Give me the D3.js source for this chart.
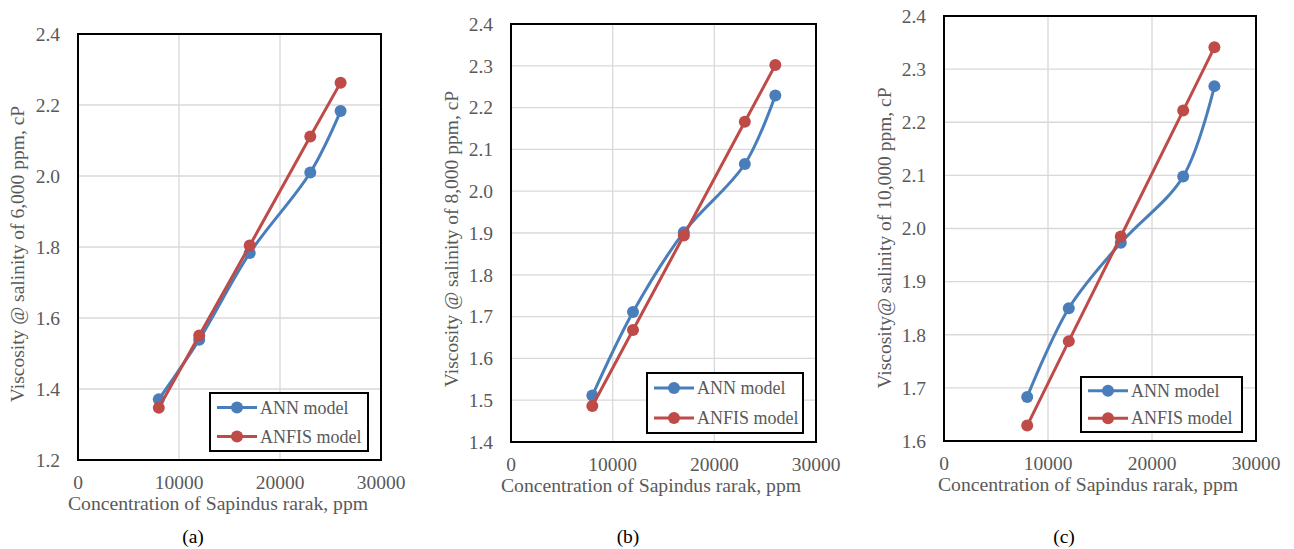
<!DOCTYPE html>
<html>
<head>
<meta charset="utf-8">
<script src="https://cdn.jsdelivr.net/npm/d3@7"></script>
<style>
  body { margin: 0; background: #fff; }
  svg { display: block; font-family: "Liberation Serif", "Times New Roman", serif; }
</style>
</head>
<body>
<svg id="chart"></svg>
<script>
// concentration of Sapindus rarak (ppm)
const concentration = [8000, 12000, 17000, 23000, 26000];

// viscosity (cP) at salinity 6,000 / 8,000 / 10,000 ppm
const annA = [1.371, 1.539, 1.783, 2.010, 2.183];
const anfisA = [1.347, 1.551, 1.804, 2.111, 2.263];
const annB = [1.511, 1.711, 1.902, 2.065, 2.229];
const anfisB = [1.486, 1.668, 1.894, 2.166, 2.302];
const annC = [1.683, 1.850, 1.973, 2.098, 2.268];
const anfisC = [1.629, 1.788, 1.985, 2.222, 2.341];

const xTicks = [0, 10000, 20000, 30000];
const yTicksA = [1.2, 1.4, 1.6, 1.8, 2.0, 2.2, 2.4];
const yTicksB = [1.4, 1.5, 1.6, 1.7, 1.8, 1.9, 2.0, 2.1, 2.2, 2.3, 2.4];
const yTicksC = [1.6, 1.7, 1.8, 1.9, 2.0, 2.1, 2.2, 2.3, 2.4];

const seriesNames = ['ANN model', 'ANFIS model'];
const yTitles = [
    'Viscosity @ salinity of 6,000 ppm, cP',
    'Viscosity @ salinity of 8,000 ppm, cP',
    'Viscosity@ salinity of 10,000 ppm, cP'
];
const xTitle = 'Concentration of Sapindus rarak, ppm';
const panelLabels = ['(a)', '(b)', '(c)'];

const colors = { ann: '#4a7ebb', anfis: '#be4b48' };
const grey = '#595959';

const svg = d3.select('#chart')
    .attr('width', 1294)
    .attr('height', 549);

const panels = [
    { left: 78, top: 34, right: 381, bottom: 460, ticks: yTicksA, ann: annA, anfis: anfisA,
      legend: { x: 210, y: 393, w: 158, h: 58 }, ytx: 24, yty: 254, tickY: 489, titleX: 218, titleY: 510, labelX: 193 },
    { left: 511, top: 24, right: 816, bottom: 442, ticks: yTicksB, ann: annB, anfis: anfisB,
      legend: { x: 647, y: 373, w: 156, h: 60 }, ytx: 458, yty: 239, tickY: 471, titleX: 651, titleY: 492, labelX: 628 },
    { left: 944, top: 16, right: 1256, bottom: 441, ticks: yTicksC, ann: annC, anfis: anfisC,
      legend: { x: 1081, y: 377, w: 161, h: 55 }, ytx: 891, yty: 238, tickY: 470, titleX: 1088, titleY: 491, labelX: 1064 }
];

panels.forEach((p, i) => {
    const x = d3.scaleLinear().domain([0, 30000]).range([p.left, p.right]);
    const y = d3.scaleLinear().domain([p.ticks[0], p.ticks[p.ticks.length - 1]]).range([p.bottom, p.top]);
    const g = svg.append('g');

    // gridlines
    g.append('g').selectAll('line.hgrid')
        .data(p.ticks.slice(1, -1))
        .join('line')
        .attr('x1', p.left).attr('x2', p.right)
        .attr('y1', d => y(d)).attr('y2', d => y(d))
        .attr('stroke', '#d9d9d9').attr('stroke-width', 1.3);
    g.append('g').selectAll('line.vgrid')
        .data(xTicks.slice(1, -1))
        .join('line')
        .attr('x1', d => x(d)).attr('x2', d => x(d))
        .attr('y1', p.top).attr('y2', p.bottom)
        .attr('stroke', '#d9d9d9').attr('stroke-width', 1.3);

    // axes (labels only, Excel style)
    const yAxis = d3.axisLeft(y).tickValues(p.ticks).tickFormat(d3.format('.1f')).tickSize(0).tickPadding(18);
    g.append('g').attr('transform', `translate(${p.left},0)`).call(yAxis)
        .call(a => a.select('.domain').remove())
        .selectAll('text')
        .style('font-family', '"Liberation Serif", serif')
        .style('font-size', '19.5px')
        .attr('fill', grey);

    g.append('g').selectAll('text.xt')
        .data(xTicks)
        .join('text')
        .attr('x', d => x(d))
        .attr('y', p.tickY)
        .attr('text-anchor', 'middle')
        .style('font-size', '19.5px')
        .attr('fill', grey)
        .text(d => d);

    // plot border
    g.append('rect')
        .attr('x', p.left).attr('y', p.top)
        .attr('width', p.right - p.left).attr('height', p.bottom - p.top)
        .attr('fill', 'none').attr('stroke', '#000').attr('stroke-width', 2);

    // series
    const annLine = d3.line().x(d => x(d[0])).y(d => y(d[1])).curve(d3.curveCatmullRom.alpha(0.5));
    const anfisLine = d3.line().x(d => x(d[0])).y(d => y(d[1]));
    const annPts = concentration.map((c, k) => [c, p.ann[k]]);
    const anfisPts = concentration.map((c, k) => [c, p.anfis[k]]);

    [[annPts, annLine, colors.ann], [anfisPts, anfisLine, colors.anfis]].forEach(([pts, gen, col]) => {
        g.append('path')
            .attr('d', gen(pts))
            .attr('fill', 'none')
            .attr('stroke', col)
            .attr('stroke-width', 3)
            .attr('stroke-linejoin', 'round');
        g.append('g').selectAll('circle')
            .data(pts)
            .join('circle')
            .attr('cx', d => x(d[0]))
            .attr('cy', d => y(d[1]))
            .attr('r', 6)
            .attr('fill', col);
    });

    // legend
    const L = p.legend;
    const lg = g.append('g').attr('transform', `translate(${L.x},${L.y})`);
    lg.append('rect')
        .attr('width', L.w).attr('height', L.h)
        .attr('fill', '#fff').attr('stroke', '#000').attr('stroke-width', 2);
    [colors.ann, colors.anfis].forEach((col, k) => {
        const ry = L.h * (k === 0 ? 0.25 : 0.75);
        lg.append('line')
            .attr('x1', 7).attr('x2', 47).attr('y1', ry).attr('y2', ry)
            .attr('stroke', col).attr('stroke-width', 3);
        lg.append('circle').attr('cx', 27).attr('cy', ry).attr('r', 6).attr('fill', col);
        lg.append('text')
            .attr('x', 50).attr('y', ry + 6)
            .style('font-size', '18px')
            .attr('fill', grey)
            .text(seriesNames[k]);
    });

    // titles
    g.append('text')
        .attr('transform', `translate(${p.ytx},${p.yty}) rotate(-90)`)
        .attr('text-anchor', 'middle')
        .style('font-size', '19.5px')
        .attr('fill', grey)
        .text(yTitles[i]);
    g.append('text')
        .attr('x', p.titleX).attr('y', p.titleY)
        .attr('text-anchor', 'middle')
        .style('font-size', '19.7px')
        .attr('fill', grey)
        .text(xTitle);
    g.append('text')
        .attr('x', p.labelX).attr('y', 543)
        .attr('text-anchor', 'middle')
        .style('font-size', '19.5px')
        .attr('fill', '#000')
        .text(panelLabels[i]);
});
</script>
</body>
</html>
